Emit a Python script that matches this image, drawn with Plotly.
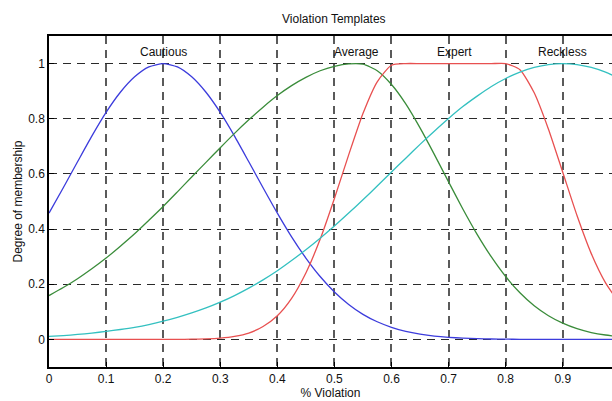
import plotly.graph_objects as go

# x positions (% violation)
x_vals = [round(i * 0.025, 3) for i in range(41)]

cautious = [0.458, 0.550, 0.644, 0.737, 0.823, 0.896, 0.952, 0.988, 1.0, 0.988,
            0.952, 0.896, 0.823, 0.737, 0.644, 0.550, 0.458, 0.372, 0.295, 0.228,
            0.172, 0.127, 0.091, 0.064, 0.044, 0.029, 0.019, 0.012, 0.0076, 0.0046,
            0.0027, 0.0015, 0.0009, 0.0005, 0.0002, 0.0001, 0.0, 0.0, 0.0, 0.0, 0.0]

average = [0.159, 0.188, 0.220, 0.256, 0.295, 0.338, 0.383, 0.432, 0.482, 0.535,
           0.589, 0.642, 0.695, 0.747, 0.796, 0.842, 0.884, 0.920, 0.950, 0.974,
           0.990, 0.999, 0.998, 0.974, 0.924, 0.854, 0.767, 0.671, 0.571, 0.473,
           0.381, 0.299, 0.228, 0.169, 0.122, 0.086, 0.059, 0.039, 0.025, 0.016, 0.010]

expert = [0.0, 0.0, 0.0, 0.0, 0.0, 0.0, 0.0, 0.0, 0.0, 0.0,
          0.0008, 0.002, 0.0048, 0.011, 0.023, 0.047, 0.086, 0.149, 0.241, 0.363,
          0.511, 0.669, 0.819, 0.934, 0.994, 1.0, 1.0, 1.0, 1.0, 1.0,
          1.0, 1.0, 1.0, 0.978, 0.894, 0.762, 0.606, 0.449, 0.311, 0.205, 0.13]

reckless = [0.011, 0.014, 0.018, 0.023, 0.029, 0.036, 0.044, 0.054, 0.066, 0.080,
            0.096, 0.114, 0.135, 0.159, 0.186, 0.216, 0.249, 0.286, 0.325, 0.367,
            0.411, 0.458, 0.506, 0.556, 0.607, 0.657, 0.707, 0.755, 0.801, 0.844,
            0.882, 0.917, 0.946, 0.969, 0.986, 0.9965, 1.0, 0.9965, 0.986, 0.969, 0.946]

series_names = ["Cautious", "Average", "Expert", "Reckless"]
series_vals = [cautious, average, expert, reckless]
series_colors = ["#3c3cdc", "#3a8c3a", "#e85050", "#33c0c0"]

label_x = [0.2, 0.538, 0.711, 0.9]
label_y = 1.043

tick_x = [0, 0.1, 0.2, 0.3, 0.4, 0.5, 0.6, 0.7, 0.8, 0.9]
tick_x_text = ["0", "0.1", "0.2", "0.3", "0.4", "0.5", "0.6", "0.7", "0.8", "0.9"]
tick_y = [0, 0.2, 0.4, 0.6, 0.8, 1.0]
tick_y_text = ["0", "0.2", "0.4", "0.6", "0.8", "1"]

font_family = "Liberation Sans, Arial, sans-serif"

fig = go.Figure()
for name, vals, col in zip(series_names, series_vals, series_colors):
    fig.add_trace(go.Scatter(x=x_vals, y=vals, mode="lines", name=name,
                             line=dict(color=col, width=1.3, shape="spline", smoothing=0.6),
                             showlegend=False))

for name, lx in zip(series_names, label_x):
    fig.add_annotation(x=lx, y=label_y, xref="x", yref="y", text=name, showarrow=False,
                       font=dict(size=12, color="#111", family=font_family))

fig.add_annotation(x=0.5, y=1.051, xref="x", yref="paper", text="Violation Templates",
                   showarrow=False, yanchor="middle",
                   font=dict(size=12, color="#111", family=font_family))

fig.update_layout(
    width=612, height=401,
    margin=dict(l=49, r=0, t=36, b=34),
    paper_bgcolor="white", plot_bgcolor="white",
    font=dict(family=font_family, size=12, color="#111"),
    xaxis=dict(range=[0, 0.9863], tickvals=tick_x, ticktext=tick_x_text,
               showgrid=True, gridcolor="#5a5a5a", gridwidth=1.6, griddash="8px,6px",
               zeroline=False, showline=True, linecolor="black", linewidth=1.5,
               mirror=True, ticks="inside", ticklen=5, tickcolor="black",
               title=dict(text="% Violation", standoff=2, font=dict(size=12))),
    yaxis=dict(range=[-0.1, 1.1], tickvals=tick_y, ticktext=tick_y_text,
               showgrid=True, gridcolor="#2a2a2a", gridwidth=1.1, griddash="8px,6px",
               zeroline=False, showline=True, linecolor="black", linewidth=1.5,
               ticks="inside", ticklen=5, tickcolor="black",
               title=dict(text="Degree of membership", standoff=3, font=dict(size=12))),
)

fig.write_html("out.html")
